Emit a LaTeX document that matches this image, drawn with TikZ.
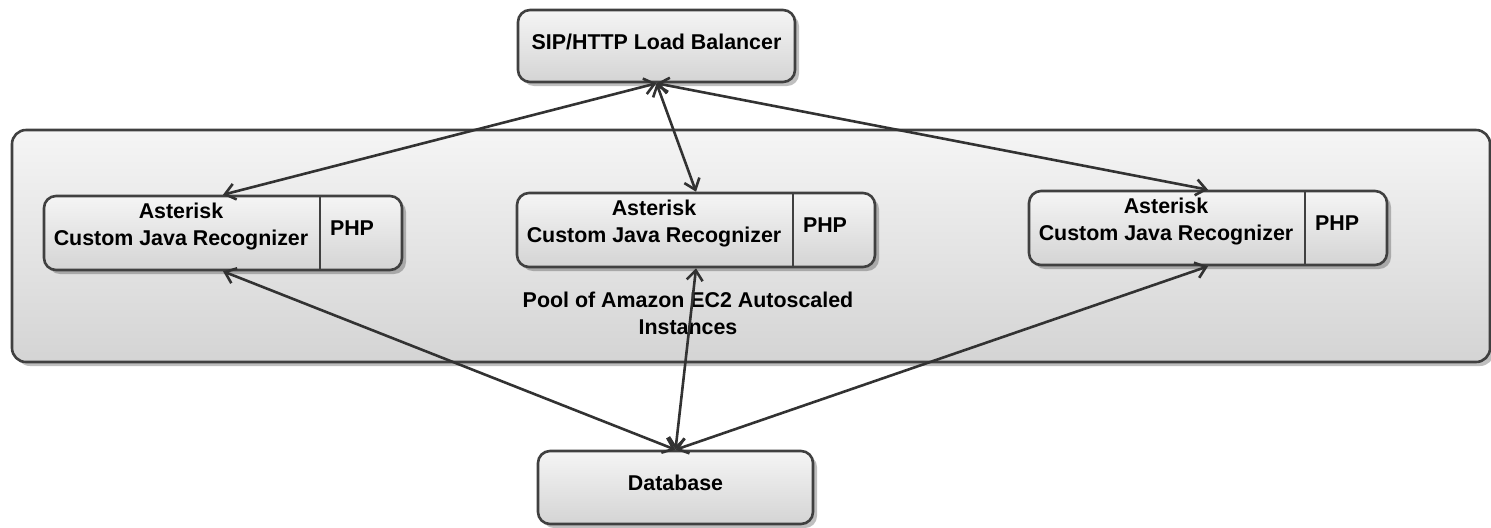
\documentclass[tikz,border=0pt]{standalone}
\usepackage{fontspec}
\setmainfont{Liberation Sans}
\usetikzlibrary{arrows.meta,shadows}

\definecolor{boxtop}{RGB}{245,245,245}
\definecolor{boxbot}{RGB}{212,212,212}
\definecolor{edge}{RGB}{64,64,64}
\definecolor{wire}{RGB}{50,50,50}

\begin{document}
\begin{tikzpicture}[x=0.5pt, y=-0.5pt,
    box/.style={draw=edge, line width=1.3pt, rounded corners=6pt,
        top color=boxtop, bottom color=boxbot,
        drop shadow={shadow xshift=2pt, shadow yshift=-2pt, fill=black, opacity=0.25},
        font=\fontsize{10.7}{13.5}\selectfont\bfseries, align=center,
        text height=8pt, text depth=5pt},
    inst/.style={box, minimum width=179pt, minimum height=37pt},
    lbl/.style={font=\fontsize{10.7}{13.5}\selectfont\bfseries, align=center, inner sep=0pt},
    link/.style={wire, line width=1.3pt,
        {Straight Barb[length=5pt,width=8pt]}-{Straight Barb[length=5pt,width=8pt]}}]
\useasboundingbox (0,0) rectangle (1491,527);

% Pool of instances
\node[box, rounded corners=7pt, minimum width=739pt, minimum height=116pt] (pool) at (751,246) {};
\node[lbl] (poollbl) at (688,313) {Pool of Amazon EC2 Autoscaled\\Instances};

% Load balancer and database
\node[box, minimum width=138.5pt, minimum height=36pt] (lb) at (656.5,46) {SIP/HTTP Load Balancer};
\node[box, minimum width=137.5pt, minimum height=36.5pt] (db) at (675.5,487.5) {Database};

% Instances
\foreach \n/\x/\y in {1/223/233, 2/696/230, 3/1208/228} {
    \node[inst] (ast\n) at (\x,\y) {};
    \draw[edge, line width=1.3pt] (\x+97,\y-38) -- (\x+97,\y+37);
    \node[lbl] (rec\n) at (\x-42,\y-6) {Asterisk\\Custom Java Recognizer};
    \node[lbl] (php\n) at (\x+129,\y-5) {PHP};
}

% Links
\foreach \n in {1,2,3} {
    \draw[link] (lb.south) -- (ast\n.north);
    \draw[link] (db.north) -- (ast\n.south);
}
\end{tikzpicture}
\end{document}
